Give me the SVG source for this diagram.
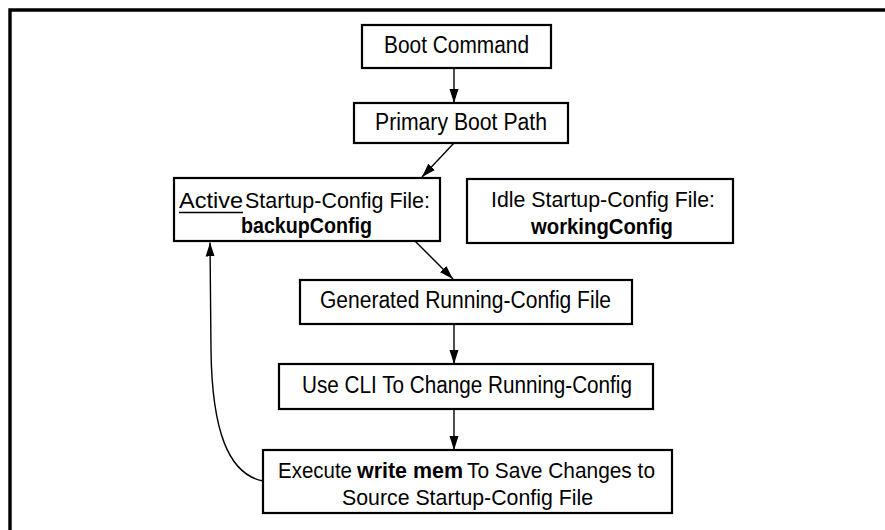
<svg xmlns="http://www.w3.org/2000/svg" width="885" height="530" viewBox="0 0 885 530">
<defs>
<style>
.box{fill:#fff;stroke:#000;stroke-width:2.2}
.t{font-family:"Liberation Sans",Arial,sans-serif;font-size:23px;fill:#000}
.s{font-size:22px}
.b{font-weight:bold}
.c{fill:none;stroke:#000;stroke-width:1.4}
</style>
<marker id="ah" viewBox="0 0 14 10" refX="14" refY="5" markerWidth="14" markerHeight="10" markerUnits="userSpaceOnUse" orient="auto">
<path d="M0,0.5 L14,5 L0,9.5 Z" fill="#000"/>
</marker>
</defs>
<rect width="885" height="530" fill="#fff"/>
<path d="M10,530 V10 H885" fill="none" stroke="#000" stroke-width="3.4"/>
<g id="connectors">
<line class="c" x1="454" y1="68" x2="454" y2="103" marker-end="url(#ah)"/>
<line class="c" x1="454" y1="143" x2="422" y2="177" marker-end="url(#ah)"/>
<line class="c" x1="415" y1="241" x2="453" y2="279" marker-end="url(#ah)"/>
<line class="c" x1="454" y1="324" x2="454" y2="364" marker-end="url(#ah)"/>
<line class="c" x1="454" y1="409" x2="454" y2="450" marker-end="url(#ah)"/>
<path class="c" d="M263,481 C228,474 212,430 211,350 L210,242.5" marker-end="url(#ah)"/>
</g>
<g id="boot-command">
<rect class="box" x="362" y="25" width="189" height="43"/>
<text class="t" x="384" y="52.5" textLength="145" lengthAdjust="spacingAndGlyphs">Boot Command</text>
</g>
<g id="primary-boot-path">
<rect class="box" x="354" y="103" width="214" height="40"/>
<text class="t" x="375" y="130" textLength="172" lengthAdjust="spacingAndGlyphs">Primary Boot Path</text>
</g>
<g id="active-startup">
<rect class="box" x="174" y="178" width="266" height="63"/>
<text class="t s" x="179" y="208" textLength="64" lengthAdjust="spacingAndGlyphs">Active</text>
<line x1="179" y1="212.5" x2="243" y2="212.5" stroke="#000" stroke-width="1.3"/>
<text class="t s" x="245" y="208" textLength="185" lengthAdjust="spacingAndGlyphs">Startup-Config File:</text>
<text class="t s b" x="241" y="233" textLength="131" lengthAdjust="spacingAndGlyphs">backupConfig</text>
</g>
<g id="idle-startup">
<rect class="box" x="467" y="179" width="266" height="64"/>
<text class="t s" x="491" y="207" textLength="224" lengthAdjust="spacingAndGlyphs">Idle Startup-Config File:</text>
<text class="t s b" x="531" y="233.5" textLength="142" lengthAdjust="spacingAndGlyphs">workingConfig</text>
</g>
<g id="generated-running">
<rect class="box" x="300" y="280" width="332" height="44"/>
<text class="t" x="320" y="307.5" textLength="291" lengthAdjust="spacingAndGlyphs">Generated Running-Config File</text>
</g>
<g id="use-cli">
<rect class="box" x="279" y="364" width="374" height="45"/>
<text class="t" x="302" y="392.5" textLength="330" lengthAdjust="spacingAndGlyphs">Use CLI To Change Running-Config</text>
</g>
<g id="execute-write-mem">
<rect class="box" x="263" y="450" width="409" height="63"/>
<text class="t s" x="278" y="478" textLength="74" lengthAdjust="spacingAndGlyphs">Execute</text>
<text class="t s b" x="357" y="478" textLength="106" lengthAdjust="spacingAndGlyphs">write mem</text>
<text class="t s" x="467" y="478" textLength="188" lengthAdjust="spacingAndGlyphs">To Save Changes to</text>
<text class="t s" x="342" y="504.5" textLength="251" lengthAdjust="spacingAndGlyphs">Source Startup-Config File</text>
</g>
</svg>
